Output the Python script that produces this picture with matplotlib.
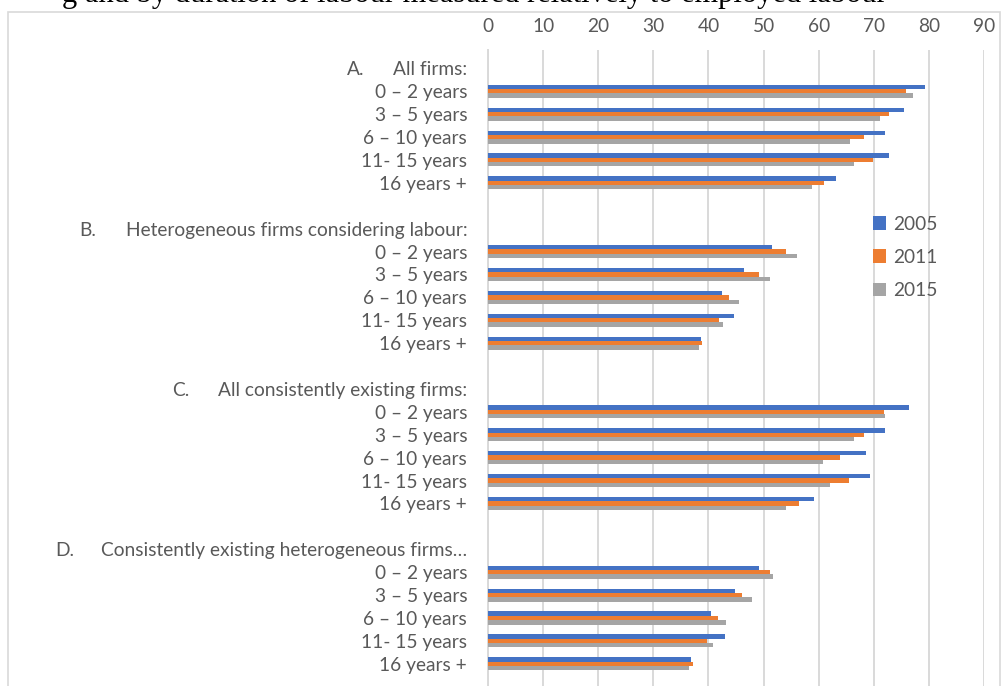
import numpy as np
import matplotlib.pyplot as plt
from matplotlib.patches import Rectangle
from matplotlib.transforms import blended_transform_factory

plt.rcParams['font.family'] = ['Lato', 'DejaVu Sans']

# categories, top to bottom ('' = spacer row)
rows = ['All firms:', '0 – 2 years', '3 – 5 years', '6 – 10 years', '11- 15 years', '16 years +', '',
        'Heterogeneous firms considering labour:', '0 – 2 years', '3 – 5 years', '6 – 10 years',
        '11- 15 years', '16 years +', '',
        'All consistently existing firms:', '0 – 2 years', '3 – 5 years', '6 – 10 years',
        '11- 15 years', '16 years +', '',
        'Consistently existing heterogeneous firms…', '0 – 2 years', '3 – 5 years', '6 – 10 years',
        '11- 15 years', '16 years +']
headers = {0: 'A.', 7: 'B.', 14: 'C.', 21: 'D.'}

years = ['2005', '2011', '2015']
colors = ['#4472C4', '#ED7D31', '#A5A5A5']

# values per section, 0-2 / 3-5 / 6-10 / 11-15 / 16+
a_2005 = [79.3, 75.4, 72.1, 72.8, 63.2]
a_2011 = [75.9, 72.7, 68.2, 69.8, 60.9]
a_2015 = [77.1, 71.1, 65.6, 66.5, 58.7]
b_2005 = [51.5, 46.5, 42.5, 44.6, 38.7]
b_2011 = [54.1, 49.1, 43.7, 42.0, 38.9]
b_2015 = [56.1, 51.1, 45.6, 42.7, 38.2]
c_2005 = [76.4, 72.0, 68.5, 69.3, 59.1]
c_2011 = [71.9, 68.3, 63.9, 65.5, 56.4]
c_2015 = [72.0, 66.5, 60.7, 62.1, 54.0]
d_2005 = [49.2, 44.9, 40.5, 43.0, 36.9]
d_2011 = [51.1, 46.1, 41.7, 39.7, 37.2]
d_2015 = [51.8, 47.9, 43.1, 40.8, 36.4]

series = [a_2005 + b_2005 + c_2005 + d_2005,
          a_2011 + b_2011 + c_2011 + d_2011,
          a_2015 + b_2015 + c_2015 + d_2015]
data_rows = [1, 2, 3, 4, 5, 8, 9, 10, 11, 12, 15, 16, 17, 18, 19, 22, 23, 24, 25, 26]

W, H = 1002, 686
fs = 13.8
fig = plt.figure(figsize=(W / 100, H / 100), dpi=100)
ax = fig.add_axes([488 / W, 0, (984 - 488) / W, 1 - 50 / H])

bh = 0.19
pos = np.array(data_rows)
for i, (vals, c, yr) in enumerate(zip(series, colors, years)):
    ax.barh(pos + (i - 1) * bh, vals, height=bh, color=c, label=yr, zorder=3)

ax.set_xlim(0, 90)
ax.set_ylim(26.97, -0.8)
ax.set_xticks(range(0, 91, 10))
ax.xaxis.tick_top()
ax.tick_params(axis='x', length=0, pad=11, labelsize=fs, labelcolor='#595959')
ax.grid(axis='x', color='#D9D9D9', lw=1.4, zorder=0)

tick_rows = [i for i, r in enumerate(rows) if r]
ax.set_yticks(tick_rows)
ax.set_yticklabels([rows[i] for i in tick_rows])
ax.tick_params(axis='y', length=0, pad=15, labelsize=fs, labelcolor='#595959')

for s in ['top', 'right', 'bottom']:
    ax.spines[s].set_visible(False)
ax.spines['left'].set_color('#D9D9D9')
ax.spines['left'].set_linewidth(1.4)

leg = ax.legend(loc='upper left', bbox_to_anchor=((863 - 488) / (984 - 488), 1 - (206 - 50) / (H - 50)),
                frameon=False, fontsize=13.8, labelcolor='#595959', handlelength=0.72,
                handleheight=0.72, handletextpad=0.35, labelspacing=0.85, borderpad=0)

# section letters sit a fixed distance left of the header text
fig.canvas.draw()
r = fig.canvas.get_renderer()
tr = blended_transform_factory(fig.transFigure, ax.transData)
for lab, idx in zip(ax.get_yticklabels(), tick_rows):
    if idx in headers:
        bb = lab.get_window_extent(r)
        fig.text((bb.x0 - 46) / W, idx, headers[idx], transform=tr, fontsize=fs,
                 color='#595959', va='center_baseline', ha='left')

# chart frame
fig.patches.append(Rectangle((8 / W, -0.02), (1000 - 8) / W, 1 - 12 / H + 0.02,
                             transform=fig.transFigure, fill=False, ec='#D9D9D9', lw=1.2))

fig.text(62 / W, 1 - 2 / H, 'g and by duration of labour measured relatively to employed labour',
         family='Liberation Serif', fontsize=22, color='black', va='baseline', ha='left')

fig.savefig('out.png', dpi=100)
